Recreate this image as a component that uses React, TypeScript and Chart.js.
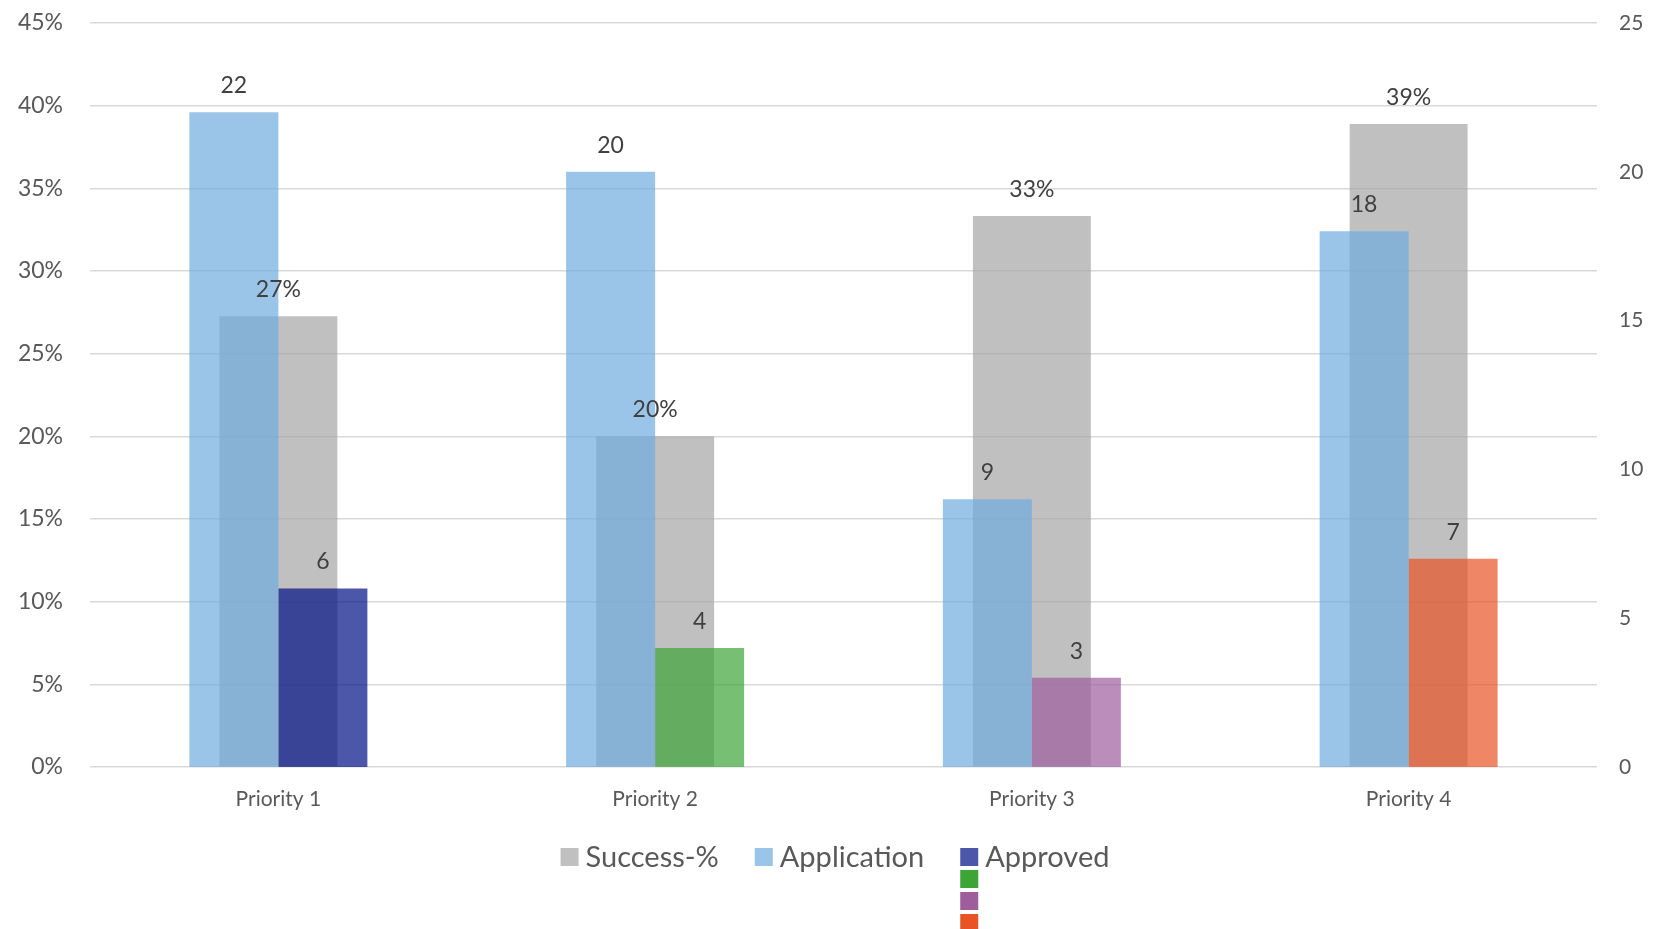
import React, { useEffect, useRef } from "react";
import { Chart, registerables } from "chart.js";

Chart.register(...registerables);

const categories = ["Priority 1", "Priority 2", "Priority 3", "Priority 4"];
const successPct = [27.27, 20.0, 33.33, 38.89];
const applications = [22, 20, 9, 18];
const approved = [6, 4, 3, 7];

const leftMax = 45;
const leftStep = 5;
const rightMax = 25;
const rightStep = 5;

const legendLabels = ["Success-%", "Application", "Approved"];

const successColor = "rgba(165,165,165,0.7)";
const applicationColor = "rgba(111,171,222,0.7)";
const approvedColors = [
  "rgba(0,16,134,0.7)",
  "rgba(61,164,54,0.7)",
  "rgba(158,93,156,0.7)",
  "rgba(232,84,37,0.7)",
];
const approvedLegendExtra = ["#3DA436", "#9E5D9C", "#E85425"];

const FONT = "Lato, 'Open Sans', sans-serif";

const labelsPlugin = {
  id: "valueLabels",
  afterDatasetsDraw(chart: any) {
    const ctx = chart.ctx;
    ctx.save();
    ctx.font = `23px ${FONT}`;
    ctx.fillStyle = "#404040";
    ctx.textAlign = "center";
    ctx.textBaseline = "alphabetic";
    chart.data.datasets.forEach((ds: any, i: number) => {
      const meta = chart.getDatasetMeta(i);
      meta.data.forEach((el: any, j: number) => {
        const v = ds.data[j];
        const txt = ds.yAxisID === "y" ? `${Math.round(v)}%` : String(v);
        ctx.fillText(txt, el.x, el.y - 19);
      });
    });
    ctx.restore();
  },
};

const legendPlugin = {
  id: "customLegend",
  afterDraw(chart: any) {
    const ctx = chart.ctx;
    ctx.save();
    ctx.font = `29px ${FONT}`;
    const box = 18;
    const gapBoxText = 7;
    const itemGap = 36;
    const colors = [successColor, applicationColor, approvedColors[0]];
    const widths = legendLabels.map((t) => ctx.measureText(t).width);
    const total =
      widths.reduce((a, w) => a + box + gapBoxText + w, 0) + itemGap * (legendLabels.length - 1);
    let x = 835 - total / 2;
    const yTop = 848;
    let approvedX = x;
    legendLabels.forEach((t, i) => {
      ctx.fillStyle = "#ffffff";
      ctx.fillRect(x, yTop, box, box);
      ctx.fillStyle = colors[i];
      ctx.fillRect(x, yTop, box, box);
      if (i === 2) approvedX = x;
      ctx.fillStyle = "#595959";
      ctx.textBaseline = "middle";
      ctx.textAlign = "left";
      ctx.fillText(t, x + box + gapBoxText, yTop + box / 2 + 1);
      x += box + gapBoxText + widths[i] + itemGap;
    });
    approvedLegendExtra.forEach((c, k) => {
      ctx.fillStyle = c;
      ctx.fillRect(approvedX, yTop + 22 * (k + 1), box, box);
    });
    ctx.restore();
  },
};

function zeroPad(s: any) {
  s.paddingTop = 0;
  s.paddingBottom = 0;
}

export default function App() {
  const canvasRef = useRef<HTMLCanvasElement | null>(null);

  useEffect(() => {
    document.body.style.margin = "0";
    let chart: Chart | null = null;
    let cancelled = false;
    const make = () => {
      if (cancelled || !canvasRef.current) return;
      Chart.defaults.font.family = FONT;
      chart = new Chart(canvasRef.current, {
        type: "bar",
        data: {
          labels: categories,
          datasets: [
            {
              label: "Success-%",
              data: successPct,
              yAxisID: "y",
              backgroundColor: successColor,
              borderWidth: 0,
              grouped: false,
              order: 1,
              barPercentage: 1,
              categoryPercentage: 0.313,
            } as any,
            {
              label: "Application",
              data: applications,
              yAxisID: "y1",
              backgroundColor: applicationColor,
              borderWidth: 0,
              order: 0,
              barPercentage: 1,
              categoryPercentage: 0.4725,
            },
            {
              label: "Approved",
              data: approved,
              yAxisID: "y1",
              backgroundColor: approvedColors,
              borderWidth: 0,
              order: 0,
              barPercentage: 1,
              categoryPercentage: 0.4725,
            },
          ],
        },
        options: {
          responsive: false,
          animation: false,
          layout: { padding: { top: 23, bottom: 0, left: 0, right: 0 } },
          plugins: { legend: { display: false }, tooltip: { enabled: false } },
          scales: {
            x: {
              grid: { display: false, drawTicks: false },
              border: { display: false },
              ticks: { color: "#595959", font: { size: 21, family: FONT }, padding: 20 },
              afterFit: (s: any) => {
                s.height = 162;
                zeroPad(s);
              },
            },
            y: {
              position: "left",
              min: 0,
              max: leftMax,
              grid: { color: "#D9D9D9", lineWidth: 1.5, drawTicks: false },
              border: { display: false },
              ticks: {
                stepSize: leftStep,
                color: "#595959",
                font: { size: 23, family: FONT },
                padding: 27,
                callback: (v: any) => `${v}%`,
              },
              afterFit: (s: any) => {
                s.width = 90;
                zeroPad(s);
              },
            },
            y1: {
              position: "right",
              min: 0,
              max: rightMax,
              grid: { display: false, drawTicks: false },
              border: { display: false },
              ticks: {
                stepSize: rightStep,
                color: "#595959",
                font: { size: 21, family: FONT },
                padding: 22,
              },
              afterFit: (s: any) => {
                s.width = 57;
                zeroPad(s);
              },
            },
          },
        },
        plugins: [labelsPlugin, legendPlugin],
      });
    };
    const fontsReady = (document as any).fonts
      ? Promise.all([
          (document as any).fonts.load(`23px Lato`),
          (document as any).fonts.load(`29px Lato`),
        ]).catch(() => null)
      : Promise.resolve(null);
    fontsReady.then(make);
    return () => {
      cancelled = true;
      if (chart) chart.destroy();
    };
  }, []);

  return (
    <div style={{ position: "absolute", left: 0, top: 0, width: 1654, height: 929, background: "#fff" }}>
      <canvas ref={canvasRef} width={1654} height={929} style={{ display: "block" }} />
    </div>
  );
}
